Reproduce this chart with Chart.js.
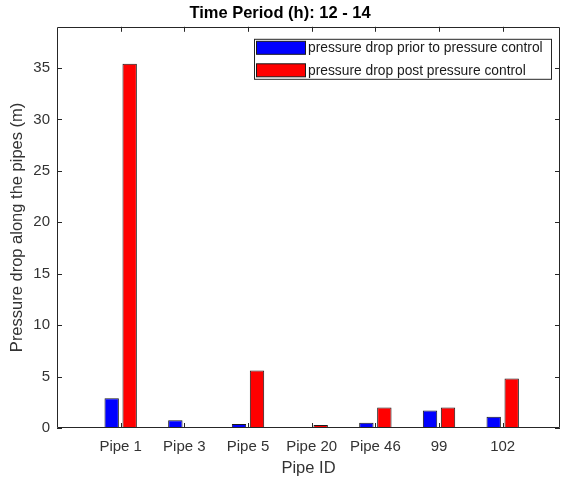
<!DOCTYPE html>
<html>
<head>
<meta charset="utf-8">
<script src="https://cdn.jsdelivr.net/npm/chart.js@4"></script>
<style>
html,body{margin:0;padding:0;background:#fff;}
canvas{display:block;}
</style>
</head>
<body>
<canvas id="c" width="561" height="479"></canvas>
<script>
const categories = ["Pipe 1", "Pipe 3", "Pipe 5", "Pipe 20", "Pipe 46", "99", "102"];
const priorValues = [2.9, 0.75, 0.4, 0, 0.5, 1.7, 1.1];
const postValues = [35.4, 0, 5.6, 0.3, 2.0, 2.0, 4.8];
const yTicks = [0, 5, 10, 15, 20, 25, 30, 35];
const seriesLabels = ["pressure drop prior to pressure control", "pressure drop post pressure control"];

const FONT = "'Liberation Sans', Arial, Helvetica, sans-serif";
const AXIS_COLOR = '#262626';
const TEXT_COLOR = '#333333';

const toPoints = vals => vals.map((v, i) => ({x: i + 1, y: v}));

const boxTicksPlugin = {
  id: 'boxTicks',
  afterDatasetsDraw(chart) {
    const {ctx, chartArea: a, scales} = chart;
    const len = 5;
    ctx.save();
    ctx.strokeStyle = AXIS_COLOR;
    ctx.lineWidth = 1;
    ctx.beginPath();
    ctx.rect(Math.round(a.left) + 0.5, Math.round(a.top) + 0.5, Math.round(a.right - a.left) - 1, Math.round(a.bottom - a.top) - 1);
    ctx.stroke();
    ctx.beginPath();
    scales.y.ticks.forEach(t => {
      const y = Math.round(scales.y.getPixelForValue(t.value)) + 0.5;
      ctx.moveTo(a.left, y); ctx.lineTo(a.left + len, y);
      ctx.moveTo(a.right, y); ctx.lineTo(a.right - len, y);
    });
    scales.x.ticks.forEach(t => {
      const x = Math.round(scales.x.getPixelForValue(t.value)) + 0.5;
      ctx.moveTo(x, a.top); ctx.lineTo(x, a.top + len);
      ctx.moveTo(x, a.bottom); ctx.lineTo(x, a.bottom - len);
    });
    ctx.stroke();
    ctx.restore();
  },
  afterDraw(chart) {
    const {ctx, chartArea: a} = chart;
    const right = a.right - 8, top = a.top + 12;
    const w = 298, h = 41;
    const left = right - w;
    ctx.save();
    ctx.fillStyle = '#fff';
    ctx.fillRect(left, top, w, h);
    ctx.strokeStyle = AXIS_COLOR;
    ctx.lineWidth = 1;
    ctx.strokeRect(left + 0.5, top + 0.5, w - 1, h - 1);
    ctx.font = '13.8px ' + FONT;
    ctx.textBaseline = 'middle';
    ctx.textAlign = 'left';
    chart.data.datasets.forEach((ds, i) => {
      const sy = top + 2 + i * 22.5;
      ctx.fillStyle = ds.backgroundColor;
      ctx.fillRect(left + 2.5, sy + 0.5, 49, 13);
      ctx.strokeStyle = '#1a1a1a';
      ctx.strokeRect(left + 2.5, sy + 0.5, 49, 13);
      ctx.fillStyle = '#1a1a1a';
      ctx.fillText(ds.label, left + 54, sy + 7.5);
    });
    ctx.restore();
  }
};

new Chart(document.getElementById('c'), {
  type: 'bar',
  data: {
    datasets: [
      {label: seriesLabels[0], data: toPoints(priorValues), backgroundColor: '#0000ff', borderColor: '#1a1a1a', borderWidth: 1, borderSkipped: 'start'},
      {label: seriesLabels[1], data: toPoints(postValues), backgroundColor: '#ff0000', borderColor: '#1a1a1a', borderWidth: 1, borderSkipped: 'start'}
    ]
  },
  options: {
    responsive: false,
    animation: false,
    devicePixelRatio: 1,
    layout: {padding: {left: 0, right: 1, top: 0, bottom: 0}},
    datasets: {bar: {categoryPercentage: 0.565, barPercentage: 0.8, grouped: true}},
    plugins: {
      legend: {display: false},
      tooltip: {enabled: false},
      title: {
        display: true,
        text: 'Time Period (h): 12 - 14',
        color: '#000',
        font: {family: FONT, size: 16.5, weight: 'bold'},
        padding: {top: 4, bottom: 3}
      }
    },
    scales: {
      x: {
        type: 'linear',
        min: 0,
        max: 7.9,
        offset: false,
        grid: {display: true, drawOnChartArea: false, drawTicks: false, color: 'rgba(0,0,0,0)'},
        border: {display: false},
        afterBuildTicks(scale) { scale.ticks = categories.map((c, i) => ({value: i + 1})); },
        afterFit(scale) { scale.height = 51; },
        ticks: {
          autoSkip: false,
          maxRotation: 0,
          padding: 10,
          color: TEXT_COLOR,
          font: {family: FONT, size: 15},
          callback: v => categories[v - 1]
        },
        title: {display: true, text: 'Pipe ID', color: TEXT_COLOR, font: {family: FONT, size: 16.5}, padding: {top: 0, bottom: 1}}
      },
      y: {
        min: 0,
        max: 39,
        grid: {display: true, drawOnChartArea: false, drawTicks: false, color: 'rgba(0,0,0,0)'},
        border: {display: false},
        afterBuildTicks(scale) { scale.ticks = yTicks.map(v => ({value: v})); },
        afterFit(scale) { scale.width = 57; },
        ticks: {padding: 7, color: TEXT_COLOR, font: {family: FONT, size: 15}},
        title: {display: true, text: 'Pressure drop along the pipes (m)', color: TEXT_COLOR, font: {family: FONT, size: 16.5}, padding: {top: 8, bottom: 0}}
      }
    }
  },
  plugins: [boxTicksPlugin]
});
</script>
</body>
</html>
